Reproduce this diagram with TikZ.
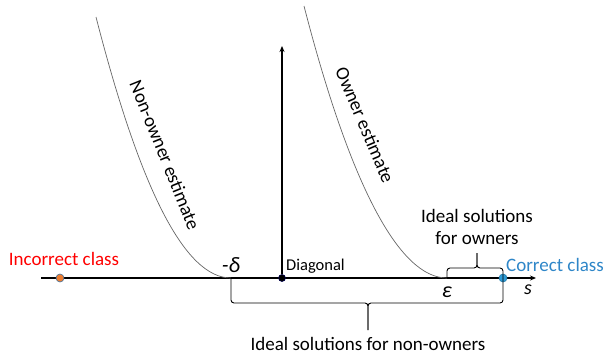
\documentclass[tikz,border=0pt]{standalone}
\usepackage{fontspec}
\setmainfont{Carlito}
\usetikzlibrary{arrows.meta}
\definecolor{dotorange}{HTML}{ED7D31}
\definecolor{dotblue}{HTML}{2E9BD6}
\definecolor{dotedge}{HTML}{41719C}
\definecolor{lblblue}{HTML}{2E86C8}
\begin{document}
\begin{tikzpicture}[x=1pt,y=-1pt,
  axis/.style={line width=1.2pt,-{Stealth[length=6pt,width=5pt]}},
  curve/.style={draw=gray!80!black,line width=0.7pt},
  dot/.style={circle,inner sep=0pt,minimum size=8pt,draw=dotedge,line width=0.6pt},
  lbl/.style={inner sep=0pt,font=\fontsize{19}{22}\selectfont},
  bracestyle/.style={draw,line width=0.9pt,rounded corners=3pt}]
\useasboundingbox (0,0) rectangle (605,356);
% axes
\coordinate (axL) at (41,278);
\coordinate (axR) at (536,278);
\coordinate (vtop) at (282,46);
\coordinate (nStart) at (96,17);
\coordinate (nEnd) at (231,278);
\coordinate (oStart) at (304,6);
\coordinate (oEnd) at (447,278);
\draw[axis] (axL) -- (axR);
\node[dot,minimum size=7pt,fill=black,draw=black!70!blue] (diag) at (282,278) {};
\draw[axis] (diag) -- (vtop);
% curves
\draw[curve] (nStart) .. controls (140.7,191) and (185.3,278) .. (nEnd);
\draw[curve] (oStart) .. controls (351,188) and (400,278) .. (oEnd);
% dots
\node[dot,fill=dotorange] (inc) at (60,278) {};
\node[dot,fill=dotblue,draw=dotblue!80!black] (cor) at (503,278) {};
% braces
\coordinate (obTip) at (477,253);
\coordinate (obMid) at (477,268);
\coordinate (nbTip) at (368,330);
\coordinate (nbMid) at (368,303);
\draw[bracestyle] (oEnd) |- (obMid) -- (obTip);
\draw[bracestyle] (cor.center) |- (obMid) -- (obTip);
\draw[bracestyle] (nEnd) |- (nbMid) -- (nbTip);
\draw[bracestyle] (cor.center) |- (nbMid) -- (nbTip);
% labels
\node[lbl,text=red] (incl) at (64,259) {Incorrect class};
\node[lbl,text=lblblue,anchor=west] (corl) at (506,265) {Correct class};
\node[lbl,font=\fontsize{16.5}{20}\selectfont,anchor=west] (diagl) at (286,266) {Diagonal};
\node[lbl,font=\fontsize{22}{24}\selectfont\itshape] (delta) at (231,265) {-δ};
\node[lbl,font=\fontsize{22}{24}\selectfont\itshape] (eps) at (447,292) {ε};
\node[lbl,font=\fontsize{20}{24}\selectfont\itshape] (sl) at (528,290) {s};
\node[lbl,align=center] (own) at (477,227) {Ideal solutions\\for owners};
\node[lbl] (nonown) at (368,344) {Ideal solutions for non-owners};
\node[lbl,rotate=-68] (nel) at (165,155) {Non-owner estimate};
\node[lbl,rotate=-67] (oel) at (365,125) {Owner estimate};
\end{tikzpicture}
\end{document}
